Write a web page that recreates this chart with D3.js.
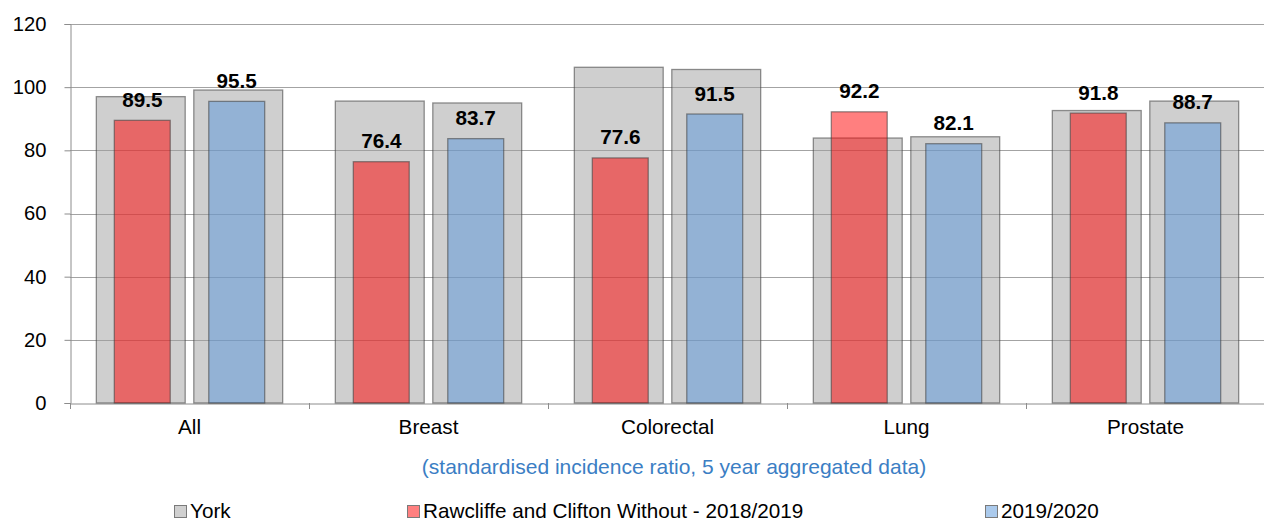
<!DOCTYPE html>
<html><head><meta charset="utf-8">
<script src="https://cdn.jsdelivr.net/npm/d3@7"></script>
<style>body{margin:0;background:#fff}svg{display:block;font-family:"Liberation Sans",Arial,sans-serif}</style>
</head><body><svg id="c" width="1264" height="524"></svg>
<script>
const categories = ["All","Breast","Colorectal","Lung","Prostate"];
const york1819 = [97.0, 95.6, 106.3, 83.9, 92.6];
const york1920 = [99.1, 95.0, 105.6, 84.3, 95.6];
const ward1819 = [89.5, 76.4, 77.6, 92.2, 91.8];
const ward1920 = [95.5, 83.7, 91.5, 82.1, 88.7];
const yTicks = [0,20,40,60,80,100,120];
const seriesNames = ["York","Rawcliffe and Clifton Without - 2018/2019","2019/2020"];
const subtitle = "(standardised incidence ratio, 5 year aggregated data)";

const FS = 20.7;
const svg = d3.select("#c");
const x = d3.scaleBand().domain(categories).range([70,1265]).padding(0);
const y = d3.scaleLinear().domain([0,120]).range([403,24]);
const xg = d3.scaleBand().domain([0,1]).range([0,x.bandwidth()]).paddingInner(0.088).paddingOuter(0.27);
const xc = d3.scaleBand().domain([0,1]).range([0,x.bandwidth()]).paddingInner(0.408).paddingOuter(0.469);

// gridlines
svg.append("g").selectAll("line").data(yTicks.filter(d=>d>0)).join("line")
  .attr("x1",70).attr("x2",1264).attr("y1",d=>Math.round(y(d))+0.5).attr("y2",d=>Math.round(y(d))+0.5)
  .attr("stroke","#a3a3a3").attr("stroke-width",1);

// y axis
const ya = svg.append("g").attr("transform","translate(70.5,0)")
  .call(d3.axisLeft(y).tickValues(yTicks).tickSize(6).tickPadding(18));
ya.select(".domain").attr("stroke","#8c8c8c");
ya.selectAll(".tick line").attr("stroke","#8c8c8c");
ya.selectAll(".tick text").attr("font-size",FS-0.5).attr("fill","#000").attr("font-family","Liberation Sans, Arial, sans-serif");

// x axis
const xa = svg.append("g").attr("transform","translate(0,403.5)")
  .call(d3.axisBottom(x).tickSize(0).tickPadding(16));
xa.select(".domain").attr("stroke","#8c8c8c");
xa.selectAll(".tick text").attr("font-size",FS).attr("fill","#000").attr("font-family","Liberation Sans, Arial, sans-serif");
svg.append("g").selectAll("line").data(categories.concat(["end"])).join("line")
  .attr("x1",(d,i)=>Math.round(70+i*x.step())+0.5).attr("x2",(d,i)=>Math.round(70+i*x.step())+0.5)
  .attr("y1",403).attr("y2",409).attr("stroke","#8c8c8c");

const greyFill = "rgba(160,160,160,0.5)";
const redFill = "rgba(255,0,0,0.5)";
const blueFill = "rgba(88,150,220,0.5)";
const barStroke = "rgba(60,60,60,0.55)";

function drawBars(vals, idx, sub, fill){
  svg.append("g").selectAll("rect").data(vals).join("rect")
    .attr("x",(d,i)=>x(categories[i])+sub(idx))
    .attr("width",sub.bandwidth())
    .attr("y",d=>y(d)).attr("height",d=>y(0)-y(d))
    .attr("fill",fill).attr("stroke",barStroke).attr("stroke-width",1.3);
}
drawBars(york1819,0,xg,greyFill);
drawBars(york1920,1,xg,greyFill);
drawBars(ward1819,0,xc,redFill);
drawBars(ward1920,1,xc,blueFill);

function labels(vals, idx){
  svg.append("g").selectAll("text").data(vals).join("text")
    .attr("x",(d,i)=>x(categories[i])+xc(idx)+xc.bandwidth()/2)
    .attr("y",d=>y(d)-13.5)
    .attr("text-anchor","middle").attr("font-size",FS).attr("font-weight","bold")
    .text(d=>d.toFixed(1));
}
labels(ward1819,0);
labels(ward1920,1);

svg.append("text").attr("x",674).attr("y",474).attr("text-anchor","middle")
  .attr("font-size",FS+0.3).attr("fill","#3b7ec4").text(subtitle);

const legX = [174, 407, 985];
const legFill = ["#d0d0d0","#ff8080","#abcaec"];
const lg = svg.append("g").selectAll("g").data(seriesNames).join("g")
  .attr("transform",(d,i)=>`translate(${legX[i]},505)`);
lg.append("rect").attr("x",0.5).attr("y",0.5).attr("width",12).attr("height",12)
  .attr("fill",(d,i)=>legFill[i]).attr("stroke","#7a7a7a");
lg.append("text").attr("x",16).attr("y",13).attr("font-size",FS).attr("fill","#000").text(d=>d);
</script></body></html>
